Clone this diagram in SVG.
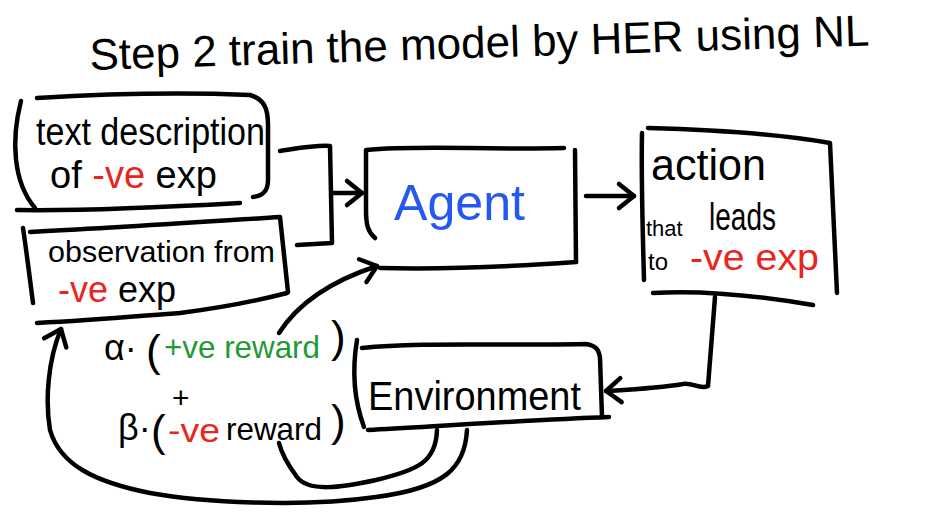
<svg xmlns="http://www.w3.org/2000/svg" width="939" height="522" viewBox="0 0 939 522">
  <style>
    .ink { fill: none; stroke: #000; stroke-width: 4.5; stroke-linecap: round; stroke-linejoin: round; }
    .t { font-family: "Liberation Sans", "DejaVu Sans", sans-serif; fill: #000; }
    .red { fill: #e8251e; }
    .green { fill: #1f9a34; }
    .blue { fill: #2458f0; }
  </style>
  <defs>
    <marker id="chev" viewBox="-20 -16 24 32" markerWidth="24" markerHeight="32" refX="0" refY="0" orient="auto" markerUnits="userSpaceOnUse">
      <path d="M-15,-12 L0,0 L-15,12" fill="none" stroke="#000" stroke-width="4.5" stroke-linecap="round" stroke-linejoin="round"/>
    </marker>
  </defs>
  <rect width="939" height="522" fill="#fff"/>

  <g id="title">
    <text class="t" x="90" y="70" font-size="44" textLength="780" lengthAdjust="spacingAndGlyphs" transform="rotate(-1.8 90 70)">Step 2 train the model by HER using NL</text>
  </g>

  <g id="node-text-description">
    <path class="ink" d="M37,98 C120,93 200,93 250,95 C264,99 268,108 268,125 L268,180 C268,192 262,196 253,197"/>
    <path class="ink" d="M21,101 C11,140 13,182 35,208"/>
    <path class="ink" d="M17,210 C90,211 170,207 240,203"/>
    <text class="t" x="36" y="145" font-size="38" textLength="229" lengthAdjust="spacingAndGlyphs">text description</text>
    <text class="t" x="50" y="188" font-size="38">of <tspan class="red">-ve</tspan> exp</text>
  </g>

  <g id="node-observation">
    <path class="ink" d="M30,232 C110,228 200,222 280,217 L288,292"/>
    <path class="ink" d="M23,228 C27,255 30,280 33,303"/>
    <path class="ink" d="M37,323 C100,320 150,315 180,313 C220,308 260,300 287,293"/>
    <text class="t" x="48" y="262" font-size="30" textLength="227" lengthAdjust="spacingAndGlyphs">observation from</text>
    <text class="t" x="58" y="302" font-size="36"><tspan class="red">-ve</tspan> exp</text>
  </g>

  <g id="node-agent">
    <path class="ink" d="M375,238 C368,232 366,225 366,210 L366,150 C420,145 480,150 564,148"/>
    <path class="ink" d="M575,150 L576,262"/>
    <path class="ink" d="M380,268 C450,270 520,266 576,262"/>
    <text class="t blue" x="394" y="220" font-size="50" textLength="131" lengthAdjust="spacingAndGlyphs">Agent</text>
  </g>

  <g id="node-action">
    <path class="ink" d="M642,133 C641,180 643,240 644,280"/>
    <path class="ink" d="M648,128 C720,130 780,134 830,143 L837,293"/>
    <path class="ink" d="M653,293 C700,290 760,296 813,305"/>
    <text class="t" x="651" y="180" font-size="44" textLength="115" lengthAdjust="spacingAndGlyphs">action</text>
    <text class="t" x="646" y="236" font-size="22">that</text>
    <text class="t" x="709" y="230" font-size="38" textLength="67" lengthAdjust="spacingAndGlyphs">leads</text>
    <text class="t" x="648" y="270" font-size="24">to</text>
    <text class="t red" x="690" y="270" font-size="36" textLength="129" lengthAdjust="spacingAndGlyphs">-ve exp</text>
  </g>

  <g id="node-environment">
    <path class="ink" d="M357,340 C352,370 354,400 364,427"/>
    <path class="ink" d="M362,348 C420,342 500,346 585,344 C596,345 599,350 600,358 L602,417"/>
    <path class="ink" d="M368,430 C440,426 530,420 609,417"/>
    <text class="t" x="368" y="410" font-size="40" textLength="213" lengthAdjust="spacingAndGlyphs">Environment</text>
  </g>

  <g id="reward-label">
    <text class="t" x="104" y="360" font-size="36">α·</text>
    <text class="t" x="146" y="366" font-size="44">(</text>
    <text class="t green" x="164" y="358" font-size="32" textLength="156" lengthAdjust="spacingAndGlyphs">+ve reward</text>
    <text class="t" x="331" y="352" font-size="44">)</text>
    <text class="t" x="172" y="408" font-size="30">+</text>
    <text class="t" x="118" y="440" font-size="36">β·</text>
    <text class="t" x="151" y="446" font-size="44">(</text>
    <text class="t red" x="168" y="442" font-size="34" textLength="52" lengthAdjust="spacingAndGlyphs">-ve</text>
    <text class="t" x="226" y="440" font-size="32" textLength="96" lengthAdjust="spacingAndGlyphs">reward</text>
    <text class="t" x="331" y="436" font-size="44">)</text>
  </g>

  <g id="connectors">
    <path class="ink" d="M280,151 C300,148 315,145 330,146 L332,243 L297,245"/>
    <path class="ink" d="M332,193 L362,193" marker-end="url(#chev)"/>
    <path class="ink" d="M586,196 L634,196" marker-end="url(#chev)"/>
    <path class="ink" d="M715,297 L708,386 C700,390 692,382 683,384 C660,388 640,389 606,391" marker-end="url(#chev)"/>
    <path class="ink" d="M279,333 C295,308 325,283 377,266" marker-end="url(#chev)"/>
    <path class="ink" d="M467,430 C465,468 445,488 376,497 C300,508 200,502 150,493 C95,482 60,465 50,430 C45,400 48,360 61,329" marker-end="url(#chev)"/>
    <path class="ink" d="M437,430 C436,462 418,470 376,480 C340,488 308,492 297,477 C288,465 282,455 279,443"/>
  </g>
</svg>
